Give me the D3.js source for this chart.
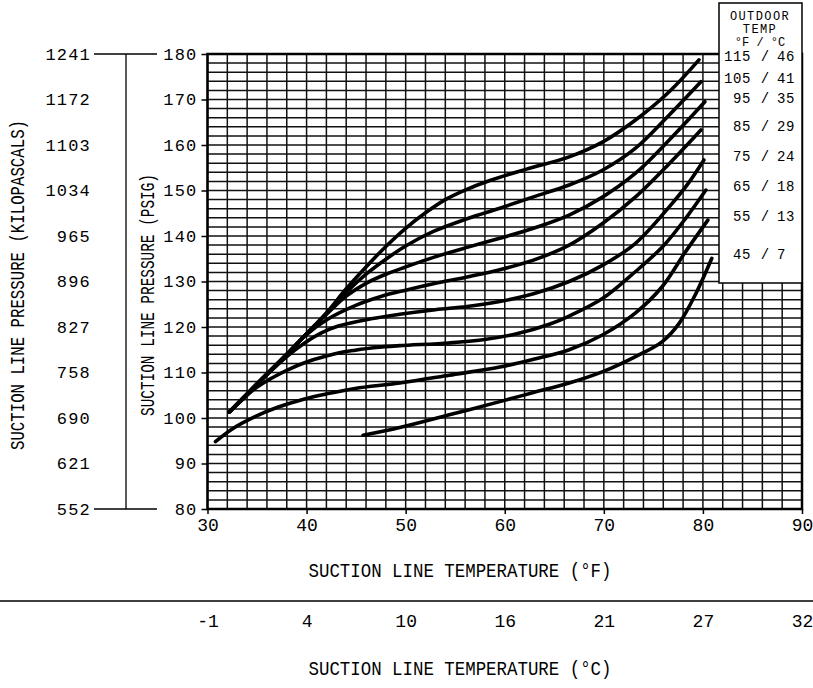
<!DOCTYPE html>
<html>
<head>
<meta charset="utf-8">
<script src="https://cdn.jsdelivr.net/npm/d3@7"></script>
<style>
  body { margin:0; background:#fff; }
  svg { display:block; font-family:"Liberation Mono","DejaVu Sans Mono",monospace; }
</style>
</head>
<body>
<script>
// outdoor temps for each curve
var outdoorF = [115,105,95,85,75,65,55,45];
var outdoorC = [46,41,35,29,24,18,13,7];

var psiTicks = [80,90,100,110,120,130,140,150,160,170,180];
var kpaLabels = ["552","621","690","758","827","896","965","1034","1103","1172","1241"];
var fTicks = [30,40,50,60,70,80,90];
var cLabels = ["-1","4","10","16","21","27","32"];

// [suction temp F, suction pressure psig]
var curve115 = [[32.2,101.3],[35,107.5],[38,114],[40,118.5],[42.2,123.6],[44,128.4],[46,133.2],[48,137.7],[50,141.7],[52,145.1],[54,148],[56,150.1],[58.5,152.2],[62.2,154.7],[66.5,157.4],[69.9,160.7],[73.2,165.5],[76.6,171.7],[79.6,178.7]];
var curve105 = [[32.2,101.3],[35,107.5],[38,114],[40,118.5],[42.2,123.4],[44,127.6],[46,131.6],[48,134.9],[50,137.8],[52.8,141],[56.2,143.8],[59.5,146.1],[62.9,148.6],[66.5,151.2],[69.9,154.5],[73.2,159.3],[76.6,166.6],[79.8,173.9]];
var curve95 = [[32.2,101.3],[35,107.5],[38,114],[40,118.5],[42.2,123.2],[44,126.8],[46,129.6],[48,131.6],[50,133.2],[52.8,135.3],[56.2,137.5],[59.5,139.5],[62.9,141.7],[66.5,144.6],[69.9,148.6],[73.2,153.8],[76.6,161.1],[80.2,169.5]];
var curve85 = [[32.2,101.3],[35,107.5],[38,114],[39.8,118],[42.2,121.8],[44.9,124.7],[47.5,126.7],[50,128.1],[52.8,129.5],[56.2,131],[59.5,132.6],[62.9,134.7],[66.5,138],[69.9,142.8],[73.2,148.6],[76.6,155.9],[79.8,163.3]];
var curve75 = [[32.2,101.3],[35,107.4],[38,113.5],[39.8,116.5],[41.5,118.7],[43.2,120.2],[46.5,121.8],[49.4,122.8],[53,123.8],[56.2,124.5],[59.5,125.6],[62.9,127.3],[66.5,130],[69.9,133.6],[73.2,138.4],[76.6,146.4],[78.5,151.5],[80.1,156.7]];
var curve65 = [[32.2,101.3],[33.5,104],[35,106.8],[36.5,108.8],[38.1,110.6],[40,112.3],[41.5,113.3],[43,114.2],[44.9,114.9],[47,115.5],[49.4,115.9],[54.4,116.5],[57.8,117.2],[61.2,118.5],[64.5,120.6],[66.5,122.4],[69.9,126.3],[73.2,132.2],[76,137.8],[78.3,144],[80.3,150.1]];
var curve55 = [[30.8,94.8],[32.5,97.6],[34.8,100.3],[37,102.3],[39.8,104.2],[42,105.3],[44.9,106.5],[49.4,107.7],[54.4,109.4],[59.5,111.2],[62.9,112.9],[66.5,115],[69.9,118.3],[73.2,123.1],[75.9,128.9],[78.2,136.4],[80.5,143.5]];
var curve45 = [[45.7,96.2],[49.4,97.9],[54.4,100.7],[59.5,103.6],[62.9,105.6],[66.5,107.7],[69.9,110.2],[73.2,113.5],[75.9,116.8],[77.6,120.8],[79.3,127.4],[80.9,135.1]];

var curves = [curve115,curve105,curve95,curve85,curve75,curve65,curve55,curve45];

var W = 813, H = 688;
var xScale = d3.scaleLinear().domain([30,90]).range([207.5,802]);
var yScale = d3.scaleLinear().domain([80,180]).range([509,54]);

var svg = d3.select("body").append("svg").attr("width",W).attr("height",H);

// grid
var grid = svg.append("g").attr("stroke","#111").attr("stroke-width",1.5);
grid.selectAll("line.v").data(d3.range(30,91,2)).enter().append("line")
  .attr("x1",d => xScale(d)).attr("x2",d => xScale(d))
  .attr("y1",yScale(80)).attr("y2",yScale(180));
grid.selectAll("line.h").data(d3.range(80,181,2)).enter().append("line")
  .attr("x1",xScale(30)).attr("x2",xScale(90))
  .attr("y1",d => yScale(d)).attr("y2",d => yScale(d));

// frame
svg.append("rect")
  .attr("x",xScale(30)).attr("y",yScale(180))
  .attr("width",xScale(90)-xScale(30)).attr("height",yScale(80)-yScale(180))
  .attr("fill","none").attr("stroke","#000").attr("stroke-width",2.5);

// psig axis
var yAxis = d3.axisLeft(yScale).tickValues(psiTicks).tickSize(6).tickPadding(4);
var ya = svg.append("g").attr("transform","translate(" + xScale(30) + ",0)").call(yAxis);
ya.select(".domain").remove();
ya.selectAll("line").attr("stroke","#000").attr("stroke-width",1.5);
ya.selectAll("text").attr("font-size",17).attr("letter-spacing",1.2).attr("fill","#000")
  .attr("font-family","Liberation Mono");

// F axis
var xAxis = d3.axisBottom(xScale).tickValues(fTicks).tickSize(5).tickPadding(4);
var xa = svg.append("g").attr("transform","translate(0," + yScale(80) + ")").call(xAxis);
xa.select(".domain").remove();
xa.selectAll("line").attr("stroke","#000").attr("stroke-width",1.5);
xa.selectAll("text").attr("font-size",18).attr("fill","#000").attr("font-family","Liberation Mono");

// kPa axis
var kAxis = d3.axisLeft(yScale).tickValues(psiTicks).tickSize(0).tickPadding(0)
  .tickFormat((d,i) => kpaLabels[i]);
var ka = svg.append("g").attr("transform","translate(91,0)").call(kAxis);
ka.select(".domain").remove();
ka.selectAll("text").attr("font-size",17).attr("letter-spacing",1.2).attr("fill","#000")
  .attr("font-family","Liberation Mono");

var bracket = svg.append("g").attr("stroke","#000").attr("stroke-width",1.3);
bracket.append("line").attr("x1",94).attr("x2",157).attr("y1",yScale(180)).attr("y2",yScale(180));
bracket.append("line").attr("x1",94).attr("x2",157).attr("y1",yScale(80)).attr("y2",yScale(80));
bracket.append("line").attr("x1",126).attr("x2",126).attr("y1",yScale(180)).attr("y2",yScale(80));

// curves
var line = d3.line().x(d => xScale(d[0])).y(d => yScale(d[1])).curve(d3.curveCatmullRom.alpha(0.5));
svg.append("g").selectAll("path").data(curves).enter().append("path")
  .attr("d",line)
  .attr("fill","none").attr("stroke","#000").attr("stroke-width",3.6)
  .attr("stroke-linecap","round").attr("stroke-linejoin","round");

// legend box
var lg = svg.append("g");
lg.append("rect").attr("x",719).attr("y",3).attr("width",83).attr("height",280)
  .attr("fill","#fff").attr("stroke","#000").attr("stroke-width",1.5);
lg.append("text").attr("x",760).attr("y",20).attr("text-anchor","middle").attr("font-size",12).attr("letter-spacing",1.4).text("OUTDOOR");
lg.append("text").attr("x",760).attr("y",33).attr("text-anchor","middle").attr("font-size",12).attr("letter-spacing",1.4).text("TEMP");
lg.append("text").attr("x",760).attr("y",46).attr("text-anchor","middle").attr("font-size",12).attr("xml:space","preserve").text("°F / °C");
outdoorF.forEach(function(f,i){
  var c = curves[i];
  var yy = yScale(c[c.length-1][1]) + 1;
  lg.append("text").attr("x",751).attr("y",yy).attr("text-anchor","end").attr("font-size",14).attr("letter-spacing",0.6).text(f);
  lg.append("text").attr("x",765).attr("y",yy).attr("text-anchor","middle").attr("font-size",14).text("/");
  lg.append("text").attr("x",777).attr("y",yy).attr("text-anchor","start").attr("font-size",14).attr("letter-spacing",0.6).text(outdoorC[i]);
});

// titles
function title(x,y,rot,len,txt){
  svg.append("text")
    .attr("transform","translate(" + x + "," + y + ") rotate(" + rot + ")")
    .attr("text-anchor","middle").attr("font-size",20)
    .attr("textLength",len).attr("lengthAdjust","spacingAndGlyphs")
    .text(txt);
}
title(460,577,0,303,"SUCTION LINE TEMPERATURE (°F)");
title(460,675,0,303,"SUCTION LINE TEMPERATURE (°C)");
title(24,285,-90,330,"SUCTION LINE PRESSURE (KILOPASCALS)");
title(154,295,-90,242,"SUCTION LINE PRESSURE (PSIG)");

// separator and C scale
svg.append("line").attr("x1",0).attr("x2",W).attr("y1",601).attr("y2",601)
  .attr("stroke","#000").attr("stroke-width",1.5);
var cAxis = d3.axisBottom(xScale).tickValues(fTicks).tickSize(0).tickPadding(0)
  .tickFormat((d,i) => cLabels[i]);
var ca = svg.append("g").attr("transform","translate(0,614)").call(cAxis);
ca.select(".domain").remove();
ca.selectAll("text").attr("font-size",18).attr("fill","#000").attr("font-family","Liberation Mono");
</script>
</body>
</html>
